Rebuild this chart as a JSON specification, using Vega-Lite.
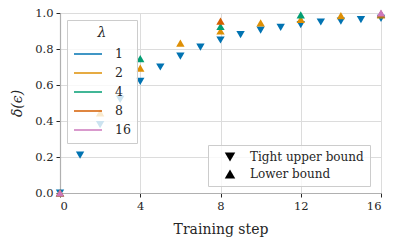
{
  "$schema": "https://vega.github.io/schema/vega-lite/v6.json",
  "width": 321,
  "height": 180,
  "autosize": "none",
  "padding": {"left": 60, "top": 13, "right": 16, "bottom": 53},
  "background": "white",
  "config": {
    "font": "DejaVu Serif",
    "view": {"stroke": null},
    "axis": {
      "labelFont": "DejaVu Serif",
      "titleFont": "DejaVu Serif",
      "labelFontSize": 11.5,
      "titleFontSize": 14,
      "titleFontWeight": "normal",
      "labelColor": "#262626",
      "titleColor": "#262626",
      "domainColor": "#b0b0b0",
      "domainWidth": 1.2,
      "tickColor": "#262626",
      "tickSize": 4,
      "gridColor": "#dcdcdc",
      "gridWidth": 1
    },
    "legend": {
      "labelFont": "DejaVu Serif",
      "titleFont": "DejaVu Serif",
      "labelColor": "#262626",
      "titleColor": "#262626"
    }
  },
  "data": {
    "values": [
      {"step": 0, "lambda": 1, "bound": "Tight upper bound", "delta": 0.0},
      {"step": 1, "lambda": 1, "bound": "Tight upper bound", "delta": 0.21},
      {"step": 2, "lambda": 1, "bound": "Tight upper bound", "delta": 0.38},
      {"step": 3, "lambda": 1, "bound": "Tight upper bound", "delta": 0.52},
      {"step": 4, "lambda": 1, "bound": "Tight upper bound", "delta": 0.62},
      {"step": 5, "lambda": 1, "bound": "Tight upper bound", "delta": 0.70},
      {"step": 6, "lambda": 1, "bound": "Tight upper bound", "delta": 0.76},
      {"step": 7, "lambda": 1, "bound": "Tight upper bound", "delta": 0.81},
      {"step": 8, "lambda": 1, "bound": "Tight upper bound", "delta": 0.85},
      {"step": 9, "lambda": 1, "bound": "Tight upper bound", "delta": 0.88},
      {"step": 10, "lambda": 1, "bound": "Tight upper bound", "delta": 0.905},
      {"step": 11, "lambda": 1, "bound": "Tight upper bound", "delta": 0.92},
      {"step": 12, "lambda": 1, "bound": "Tight upper bound", "delta": 0.935},
      {"step": 13, "lambda": 1, "bound": "Tight upper bound", "delta": 0.95},
      {"step": 14, "lambda": 1, "bound": "Tight upper bound", "delta": 0.955},
      {"step": 15, "lambda": 1, "bound": "Tight upper bound", "delta": 0.963},
      {"step": 16, "lambda": 1, "bound": "Tight upper bound", "delta": 0.97},
      {"step": 0, "lambda": 2, "bound": "Lower bound", "delta": 0.0},
      {"step": 2, "lambda": 2, "bound": "Lower bound", "delta": 0.445},
      {"step": 4, "lambda": 2, "bound": "Lower bound", "delta": 0.694},
      {"step": 6, "lambda": 2, "bound": "Lower bound", "delta": 0.833},
      {"step": 8, "lambda": 2, "bound": "Lower bound", "delta": 0.90},
      {"step": 10, "lambda": 2, "bound": "Lower bound", "delta": 0.945},
      {"step": 12, "lambda": 2, "bound": "Lower bound", "delta": 0.965},
      {"step": 14, "lambda": 2, "bound": "Lower bound", "delta": 0.985},
      {"step": 16, "lambda": 2, "bound": "Lower bound", "delta": 0.99},
      {"step": 0, "lambda": 4, "bound": "Lower bound", "delta": 0.0},
      {"step": 4, "lambda": 4, "bound": "Lower bound", "delta": 0.746},
      {"step": 8, "lambda": 4, "bound": "Lower bound", "delta": 0.925},
      {"step": 12, "lambda": 4, "bound": "Lower bound", "delta": 0.99},
      {"step": 16, "lambda": 4, "bound": "Lower bound", "delta": 0.995},
      {"step": 0, "lambda": 8, "bound": "Lower bound", "delta": 0.0},
      {"step": 8, "lambda": 8, "bound": "Lower bound", "delta": 0.955},
      {"step": 16, "lambda": 8, "bound": "Lower bound", "delta": 0.995},
      {"step": 0, "lambda": 16, "bound": "Lower bound", "delta": 0.0},
      {"step": 16, "lambda": 16, "bound": "Lower bound", "delta": 1.0}
    ]
  },
  "mark": {"type": "point", "filled": true, "opacity": 1, "size": 70, "strokeWidth": 0},
  "encoding": {
    "x": {
      "field": "step",
      "type": "quantitative",
      "scale": {"domain": [0, 16], "nice": false},
      "axis": {"values": [0, 4, 8, 12, 16], "title": "Training step", "titlePadding": 11, "labelPadding": 3}
    },
    "y": {
      "field": "delta",
      "type": "quantitative",
      "scale": {"domain": [0, 1], "nice": false},
      "axis": {"values": [0, 0.2, 0.4, 0.6, 0.8, 1.0], "format": ".1f", "title": "δ(ϵ)", "titleFontStyle": "italic", "titlePadding": 10, "labelPadding": 3}
    },
    "fill": {
      "field": "lambda",
      "type": "ordinal",
      "scale": {"domain": [1, 2, 4, 8, 16], "range": ["#0173B2", "#DE8F05", "#029E73", "#D55E00", "#CC78BC"]},
      "legend": {
        "title": "λ",
        "orient": "none",
        "legendX": 7,
        "legendY": 7,
        "titleFontStyle": "italic",
        "titleFontWeight": "normal",
        "titleFontSize": 14,
        "titleAnchor": "middle",
        "titlePadding": 6,
        "labelFontSize": 12.5,
        "symbolType": "M-1,0H3",
        "symbolSize": 196,
        "symbolStrokeWidth": 1.5,
        "rowPadding": 4,
        "padding": 6,
        "strokeColor": "#cccccc",
        "fillColor": "rgba(255,255,255,0.8)",
        "labelOffset": 26
      }
    },
    "stroke": {
      "field": "lambda",
      "type": "ordinal",
      "scale": {"domain": [1, 2, 4, 8, 16], "range": ["#0173B2", "#DE8F05", "#029E73", "#D55E00", "#CC78BC"]},
      "legend": {
        "title": "λ",
        "orient": "none",
        "legendX": 7,
        "legendY": 7,
        "titleFontStyle": "italic",
        "titleFontWeight": "normal",
        "titleFontSize": 14,
        "titleAnchor": "middle",
        "titlePadding": 6,
        "labelFontSize": 12.5,
        "symbolType": "M-1,0H3",
        "symbolSize": 196,
        "symbolStrokeWidth": 1.5,
        "rowPadding": 4,
        "padding": 6,
        "strokeColor": "#cccccc",
        "fillColor": "rgba(255,255,255,0.8)",
        "labelOffset": 26
      }
    },
    "shape": {
      "field": "bound",
      "type": "nominal",
      "scale": {"domain": ["Tight upper bound", "Lower bound"], "range": ["triangle-down", "triangle-up"]},
      "legend": {
        "title": null,
        "orient": "none",
        "legendX": 148,
        "legendY": 132,
        "labelFontSize": 12,
        "symbolSize": 110,
        "symbolFillColor": "black",
        "symbolStrokeColor": "black",
        "symbolStrokeWidth": 0,
        "symbolOffset": 10,
        "rowPadding": 5,
        "padding": 6,
        "labelOffset": 14,
        "strokeColor": "#cccccc",
        "fillColor": "rgba(255,255,255,0.8)"
      }
    }
  }
}
